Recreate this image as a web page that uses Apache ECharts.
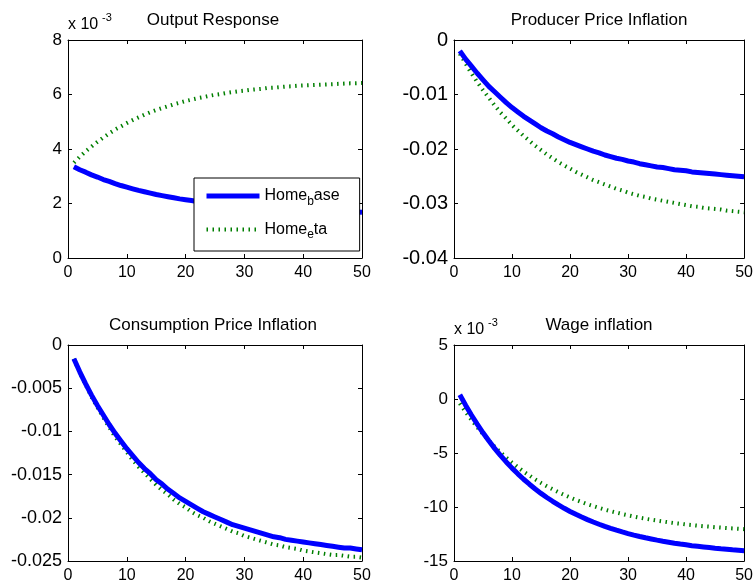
<!DOCTYPE html>
<html>
<head>
<meta charset="utf-8">
<title>Impulse responses</title>
<script src="https://cdn.jsdelivr.net/npm/echarts@6/dist/echarts.min.js"></script>
<style>
html, body { margin: 0; padding: 0; background: #fff; }
#chart { width: 756px; height: 584px; }
</style>
</head>
<body>
<div id="chart"></div>
<script>

// data
//-------------------------

// periods after the shock
var periods = [1, 2, 3, 4, 5, 6, 7, 8, 9, 10, 11, 12, 13, 14, 15, 16, 17, 18, 19, 20,
  21, 22, 23, 24, 25, 26, 27, 28, 29, 30, 31, 32, 33, 34, 35, 36, 37, 38, 39, 40,
  41, 42, 43, 44, 45, 46, 47, 48, 49, 50];

var xTicks = [0, 10, 20, 30, 40, 50];

// Output Response (x 10^-3)
var outBase = [3.35, 3.24, 3.15, 3.05, 2.97, 2.88, 2.81, 2.73, 2.66, 2.60,
  2.54, 2.48, 2.43, 2.38, 2.33, 2.29, 2.25, 2.21, 2.17, 2.14,
  2.11, 2.07, 2.05, 2.02, 1.99, 1.97, 1.95, 1.93, 1.91, 1.89,
  1.87, 1.86, 1.84, 1.83, 1.81, 1.80, 1.79, 1.78, 1.77, 1.76,
  1.75, 1.74, 1.73, 1.72, 1.71, 1.71, 1.70, 1.69, 1.69, 1.68];
var outEta = [3.50, 3.71, 3.91, 4.09, 4.26, 4.42, 4.57, 4.71, 4.83, 4.95,
  5.06, 5.16, 5.26, 5.35, 5.43, 5.50, 5.57, 5.64, 5.70, 5.76,
  5.81, 5.86, 5.90, 5.95, 5.99, 6.02, 6.06, 6.09, 6.12, 6.14,
  6.17, 6.19, 6.21, 6.24, 6.25, 6.27, 6.29, 6.30, 6.32, 6.33,
  6.34, 6.35, 6.36, 6.37, 6.38, 6.39, 6.40, 6.41, 6.41, 6.42];
var outTicks = [0, 2, 4, 6, 8];

// Producer Price Inflation
var ppiBase = [-0.0020, -0.0035, -0.0048, -0.0061, -0.0073, -0.0085, -0.0095, -0.0105, -0.0115, -0.0124,
  -0.0132, -0.0140, -0.0147, -0.0154, -0.0161, -0.0167, -0.0172, -0.0178, -0.0183, -0.0188,
  -0.0192, -0.0196, -0.0200, -0.0204, -0.0207, -0.0211, -0.0214, -0.0217, -0.0219, -0.0222,
  -0.0224, -0.0227, -0.0229, -0.0231, -0.0233, -0.0234, -0.0236, -0.0238, -0.0239, -0.0240,
  -0.0242, -0.0243, -0.0244, -0.0245, -0.0246, -0.0247, -0.0248, -0.0249, -0.0250, -0.0251];
var ppiEta = [-0.0025, -0.0043, -0.0061, -0.0077, -0.0092, -0.0106, -0.0120, -0.0133, -0.0144, -0.0156,
  -0.0166, -0.0176, -0.0185, -0.0194, -0.0202, -0.0210, -0.0217, -0.0224, -0.0230, -0.0236,
  -0.0242, -0.0247, -0.0252, -0.0257, -0.0261, -0.0265, -0.0269, -0.0273, -0.0276, -0.0280,
  -0.0283, -0.0286, -0.0288, -0.0291, -0.0293, -0.0295, -0.0297, -0.0299, -0.0301, -0.0303,
  -0.0305, -0.0306, -0.0308, -0.0309, -0.0310, -0.0311, -0.0313, -0.0314, -0.0315, -0.0316];
var ppiTicks = [-0.04, -0.03, -0.02, -0.01, 0];

// Consumption Price Inflation
var cpiBase = [-0.0016, -0.0031, -0.0045, -0.0058, -0.0070, -0.0081, -0.0092, -0.0102, -0.0111, -0.0120,
  -0.0128, -0.0136, -0.0143, -0.0149, -0.0156, -0.0161, -0.0167, -0.0172, -0.0177, -0.0181,
  -0.0185, -0.0189, -0.0193, -0.0196, -0.0199, -0.0202, -0.0205, -0.0208, -0.0210, -0.0212,
  -0.0214, -0.0216, -0.0218, -0.0220, -0.0222, -0.0223, -0.0225, -0.0226, -0.0227, -0.0228,
  -0.0229, -0.0230, -0.0231, -0.0232, -0.0233, -0.0234, -0.0235, -0.0235, -0.0236, -0.0237];
var cpiEta = [-0.0016, -0.0032, -0.0046, -0.0060, -0.0072, -0.0084, -0.0095, -0.0106, -0.0115, -0.0124,
  -0.0133, -0.0141, -0.0148, -0.0155, -0.0162, -0.0168, -0.0173, -0.0179, -0.0184, -0.0188,
  -0.0193, -0.0197, -0.0200, -0.0204, -0.0207, -0.0210, -0.0213, -0.0216, -0.0218, -0.0221,
  -0.0223, -0.0225, -0.0227, -0.0229, -0.0231, -0.0232, -0.0234, -0.0235, -0.0236, -0.0238,
  -0.0239, -0.0240, -0.0241, -0.0242, -0.0243, -0.0243, -0.0244, -0.0245, -0.0245, -0.0246];
var cpiTicks = [-0.025, -0.02, -0.015, -0.01, -0.005, 0];

// Wage inflation (x 10^-3)
var wageBase = [0.40, -0.57, -1.48, -2.33, -3.13, -3.87, -4.57, -5.22, -5.83, -6.40,
  -6.93, -7.43, -7.89, -8.33, -8.74, -9.12, -9.47, -9.81, -10.12, -10.41,
  -10.68, -10.93, -11.17, -11.39, -11.60, -11.80, -11.98, -12.15, -12.31, -12.46,
  -12.60, -12.73, -12.85, -12.96, -13.07, -13.17, -13.26, -13.35, -13.43, -13.50,
  -13.58, -13.64, -13.70, -13.76, -13.82, -13.87, -13.91, -13.96, -14.00, -14.04];
var wageEta = [-0.40, -1.19, -1.92, -2.61, -3.25, -3.85, -4.41, -4.94, -5.43, -5.88,
  -6.31, -6.72, -7.09, -7.44, -7.77, -8.08, -8.36, -8.63, -8.88, -9.12,
  -9.34, -9.54, -9.74, -9.91, -10.08, -10.24, -10.39, -10.52, -10.65, -10.77,
  -10.88, -10.99, -11.09, -11.18, -11.26, -11.34, -11.42, -11.49, -11.55, -11.62,
  -11.67, -11.73, -11.78, -11.82, -11.87, -11.91, -11.95, -11.98, -12.02, -12.05];
var wageTicks = [-15, -10, -5, 0, 5];


// chart setup
//-------------

var font = 'Liberation Sans, Arial, Helvetica, sans-serif';
var blue = '#0000ff';
var green = '#007f00';

// yFont: the matlab export draws the decimal tick labels quite wide
var panels = [
  { title: 'Output Response', base: outBase, eta: outEta, ticks: outTicks, left: 68, top: 40, height: 218, yFont: 17, exp: true },
  { title: 'Producer Price Inflation', base: ppiBase, eta: ppiEta, ticks: ppiTicks, left: 454, top: 40, height: 218, yFont: 20 },
  { title: 'Consumption Price Inflation', base: cpiBase, eta: cpiEta, ticks: cpiTicks, left: 68, top: 345, height: 216, yFont: 18 },
  { title: 'Wage inflation', base: wageBase, eta: wageEta, ticks: wageTicks, left: 454, top: 345, height: 216, yFont: 17, exp: true }
];

var pairs = function(ys) {
  return periods.map(function(x, i) { return [x, ys[i]]; });
};

// avoid 0.009999999 style labels
var tickText = function(v) {
  return String(+v.toFixed(6));
};

var grid = [], xAxis = [], yAxis = [], series = [], title = [], graphic = [];

panels.forEach(function(p, i) {
  var ymin = p.ticks[0];
  var ymax = p.ticks[p.ticks.length - 1];
  var yStep = p.ticks[1] - p.ticks[0];

  grid.push({ left: p.left, top: p.top, width: 294, height: p.height });

  // bottom + mirrored top x axis, left + mirrored right y axis (matlab box)
  ['bottom', 'top'].forEach(function(pos) {
    xAxis.push({
      gridIndex: i, type: 'value', position: pos,
      min: xTicks[0], max: xTicks[xTicks.length - 1], interval: xTicks[1] - xTicks[0],
      axisLine: { show: true, onZero: false, lineStyle: { color: '#000', width: 1 } },
      axisTick: { show: true, inside: true, length: 4, lineStyle: { color: '#000' } },
      axisLabel: { show: pos === 'bottom', color: '#000', fontSize: 16, fontFamily: font, margin: 7, formatter: tickText },
      splitLine: { show: false }
    });
  });
  ['left', 'right'].forEach(function(pos) {
    yAxis.push({
      gridIndex: i, type: 'value', position: pos,
      min: ymin, max: ymax, interval: yStep,
      axisLine: { show: true, onZero: false, lineStyle: { color: '#000', width: 1 } },
      axisTick: { show: true, inside: true, length: 4, lineStyle: { color: '#000' } },
      axisLabel: { show: pos === 'left', color: '#000', fontSize: p.yFont, fontFamily: font, margin: 6, formatter: tickText },
      splitLine: { show: false }
    });
  });

  series.push({
    name: 'Home_eta', type: 'line', xAxisIndex: 2 * i, yAxisIndex: 2 * i,
    data: pairs(p.eta), symbol: 'none', z: 2,
    itemStyle: { color: green },
    lineStyle: { color: green, width: 4, type: [1.5, 4.5], cap: 'butt' }
  });
  series.push({
    name: 'Home_base', type: 'line', xAxisIndex: 2 * i, yAxisIndex: 2 * i,
    data: pairs(p.base), symbol: 'none', z: 3,
    itemStyle: { color: blue },
    lineStyle: { color: blue, width: 5 }
  });

  title.push({
    text: p.title, left: p.left + 140, top: p.top - 33, textAlign: 'center',
    textStyle: { fontSize: 17, fontWeight: 'normal', color: '#000', fontFamily: font }
  });

  // "x 10^-3" scale note above the y axis
  if (p.exp) {
    graphic.push({
      type: 'text', left: p.left, top: p.top - 23,
      style: { text: 'x 10', fill: '#000', font: '16px ' + font }
    });
    graphic.push({
      type: 'text', left: p.left + 34, top: p.top - 28,
      style: { text: '-3', fill: '#000', font: '11px ' + font }
    });
  }
});

var myChart = echarts.init(document.getElementById('chart'));
var option = {
  backgroundColor: '#fff',
  animation: false,
  title: title,
  grid: grid,
  xAxis: xAxis,
  yAxis: yAxis,
  legend: {
    data: ['Home_base', 'Home_eta'],
    orient: 'vertical',
    left: 194, top: 178,
    itemWidth: 53, itemHeight: 16, itemGap: 14,
    padding: [10, 20, 10, 10],
    backgroundColor: '#fff',
    borderColor: '#000', borderWidth: 1,
    itemStyle: { opacity: 0 },
    lineStyle: { width: 'inherit' },
    formatter: function(name) {
      return name === 'Home_base' ? 'Home{sub|b}ase' : 'Home{sub|e}ta';
    },
    textStyle: {
      color: '#000', fontSize: 16, fontFamily: font,
      rich: { sub: { fontSize: 12, fontFamily: font, color: '#000', padding: [11, 0, 0, 0] } }
    }
  },
  graphic: graphic,
  series: series
};
myChart.setOption(option);

</script>
</body>
</html>
